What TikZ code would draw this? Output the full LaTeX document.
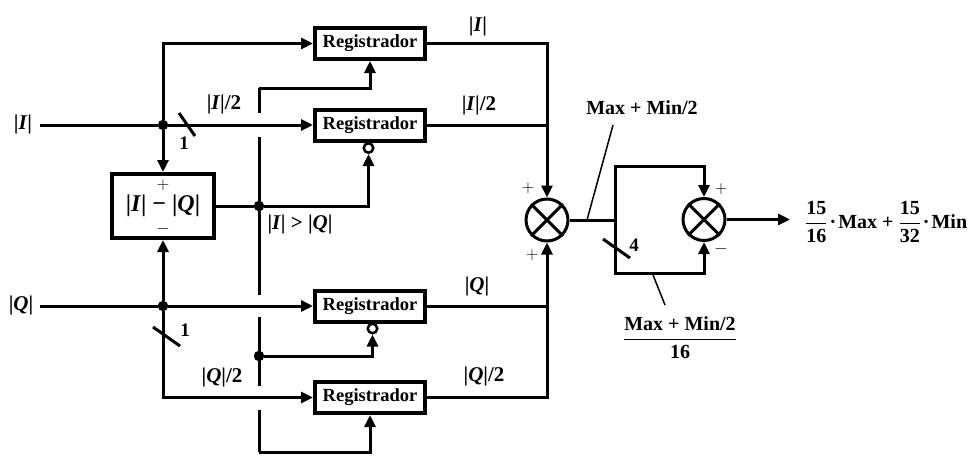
\documentclass[tikz,border=0pt]{standalone}
\usepackage{fontspec}
\setmainfont{Liberation Serif}
\usetikzlibrary{arrows.meta,calc}
\newcommand\av[1]{|\textit{#1}|}
\newcommand\vfrac[2]{$\displaystyle\frac{\mbox{#1}}{\mbox{#2}}$}
\newcommand\cdotsp{\kern2pt·\kern2pt}
\begin{document}
\begin{tikzpicture}[x=1pt,y=-1pt,
  every node/.style={font=\fontsize{21}{24}\selectfont\bfseries},
  regfont/.style={font=\fontsize{18.5}{21}\selectfont\bfseries},
  boxfont/.style={font=\fontsize{24}{27}\selectfont\bfseries},
  mmfont/.style={font=\fontsize{20}{23}\selectfont\bfseries},
  numfont/.style={font=\fontsize{19}{21}\selectfont\bfseries},
  signfont/.style={font=\fontsize{19}{22}\selectfont},
  wire/.style={line width=3pt},
  sig/.style={wire,-{Triangle[length=12pt,width=11pt]}},
  leader/.style={line width=1.5pt},
  regbox/.style={draw,line width=4pt,minimum width=110pt,minimum height=31pt,inner sep=0pt,fill=white,regfont},
  diffbox/.style={draw,line width=4pt,minimum width=102pt,minimum height=64pt,inner sep=0pt,fill=white,boxfont},
  summer/.style={draw,circle,line width=3pt,minimum size=42pt,inner sep=0pt},
  dot/.style={circle,fill,inner sep=0pt,minimum size=10.5pt},
  inv/.style={draw,circle,line width=2.5pt,minimum size=9.5pt,inner sep=0pt,fill=white}]
\useasboundingbox (0,0) rectangle (976,472);

% registers and arithmetic blocks
\node[regbox] (r1) at (370,43.5) {Registrador};
\node[regbox] (r2) at (370,125) {Registrador};
\node[regbox] (r3) at (370,306) {Registrador};
\node[regbox] (r4) at (370,397.5) {Registrador};
\node[diffbox] (d) at (163,206) {\av{I} − \av{Q}};
\node[signfont] (dp) at (163,185) {$+$};
\node[signfont] (dm) at (163,229) {$-$};
\node[summer] (s1) at (547,220) {};
\node[summer] (s2) at (704,219.5) {};
\foreach \s in {s1,s2}
  \draw[wire] (\s.north east) -- (\s.south west) (\s.north west) -- (\s.south east);

% inputs
\node (lI) at (23,124) {\av{I}};
\node (lQ) at (21,305) {\av{Q}};
\coordinate (inI) at (40,125);
\coordinate (inQ) at (40,306);
\node[dot] (jI) at (163,125) {};
\node[dot] (jQ) at (163,306) {};
\draw[wire] (inI) -- (jI);
\draw[wire] (inQ) -- (jQ);
\draw[sig] (jI) -- (jI -| r2.west);
\draw[sig] (jI) |- (r1.west);
\draw[sig] (jI) -- (d.north);
\draw[sig] (jQ) -- (jQ -| r3.west);
\draw[sig] (jQ) -- (d.south);
\draw[sig] (jQ) |- (r4.west);

% shift-by-one marks
\draw[wire] (179,113) -- (195,136);
\node[numfont] (k1) at (184,143) {1};
\draw[wire] (153,327) -- (180,346);
\node[numfont] (k2) at (185,330) {1};
\node (hI) at (224,104) {\av{I}/2};
\node (hQ) at (222,377) {\av{Q}/2};

% comparison control line
\coordinate (cT) at (259,88);
\coordinate (cB) at (259,452);
\node[dot] (jC) at (259,206) {};
\node[dot] (jD) at (259,356) {};
\draw[wire] (d.east) -- (jC);
\draw[wire] (cT) -- (259,113) (259,137) -- (259,295) (259,317) -- (259,386) (259,410) -- (cB);
\node (cmp) at (300,224) {\av{I} > \av{Q}};
\node[inv] (n2) at (368.5,148) {};
\node[inv] (n3) at (372.5,328.5) {};
\draw[sig] (cT) -| (r1.south);
\draw[sig] (jC) -| (n2.south);
\draw[sig] (jD) -| (n3.south);
\draw[sig] (cB) -| (r4.south);

% register outputs into the first adder
\draw[sig] (r1.east) -| (s1.north);
\draw[wire] (r2.east) -- (r2.east -| s1);
\draw[sig] (r4.east) -| (s1.south);
\draw[wire] (r3.east) -- (r3.east -| s1);
\node (oI) at (478,26) {\av{I}};
\node (oI2) at (479,105) {\av{I}/2};
\node (oQ) at (477,286) {\av{Q}};
\node (oQ2) at (484,376) {\av{Q}/2};
\node[signfont] (p1) at (528,188) {$+$};
\node[signfont] (p2) at (532,255) {$+$};

% second stage
\coordinate (ff) at (615,220);
\coordinate (ffT) at (615,166);
\coordinate (ffB) at (615,273);
\draw[wire] (s1.east) -- (ff);
\draw[sig] (ff) -- (ffT) -| (s2.north);
\draw[sig] (ff) -- (ffB) -| (s2.south);
\draw[wire] (603,239) -- (630,258);
\node[numfont] (k4) at (634,245) {4};
\node[signfont] (p3) at (721,189) {$+$};
\node[signfont] (m3) at (721,249) {$-$};

% labels with leader lines
\node[mmfont] (mm) at (642,108) {Max + Min/2};
\coordinate (la) at (613,125);
\coordinate (lb) at (587,220);
\draw[leader] (la) -- (lb);
\node[mmfont] (fr) at (680,338) {\vfrac{Max + Min/2}{16}};
\coordinate (lc) at (653,275);
\coordinate (ld) at (665,305);
\draw[leader] (lc) -- (ld);

% output
\coordinate (out) at (790,219.5);
\draw[sig] (s2.east) -- (out);
\node[mmfont,anchor=west,inner sep=0pt] (res) at (805,222) {\vfrac{15}{16}\cdotsp Max + \vfrac{15}{32}\cdotsp Min};
\end{tikzpicture}
\end{document}
